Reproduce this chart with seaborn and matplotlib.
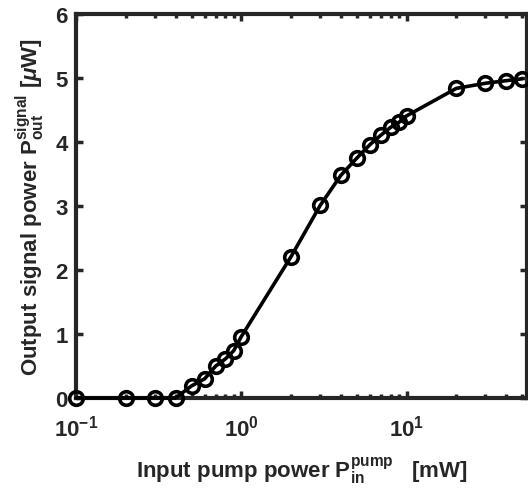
import matplotlib
matplotlib.use("Agg")
import matplotlib.pyplot as plt
import matplotlib.ticker as mticker
import numpy as np
import pandas as pd
import seaborn as sns

# pump power [mW] and output signal power [uW]
pump_mw = [0.1, 0.2, 0.3, 0.4, 0.5, 0.6, 0.7, 0.8, 0.9, 1.0,
           2.0, 3.0, 4.0, 5.0, 6.0, 7.0, 8.0, 9.0, 10.0,
           20.0, 30.0, 40.0, 50.0]
signal_uw = [0.0, 0.0, 0.0, 0.0, 0.19, 0.30, 0.50, 0.61, 0.74, 0.96,
             2.21, 3.01, 3.48, 3.75, 3.96, 4.11, 4.23, 4.31, 4.41,
             4.84, 4.92, 4.96, 4.99]
y_ticks = [0, 1, 2, 3, 4, 5, 6]
x_ticks = [0.1, 1, 10]

sns.set_style("ticks")
plt.rcParams["font.family"] = ["Liberation Sans", "DejaVu Sans"]
plt.rcParams["font.weight"] = "bold"
plt.rcParams["mathtext.fontset"] = "custom"
plt.rcParams["mathtext.rm"] = "Liberation Sans:bold"
plt.rcParams["mathtext.bf"] = "Liberation Sans:bold"
plt.rcParams["mathtext.it"] = "Liberation Sans:bold:italic"
plt.rcParams["mathtext.default"] = "bf"

data = pd.DataFrame({"pump": pump_mw, "signal": signal_uw})

fig = plt.figure(figsize=(5.28, 4.89), dpi=100)
ax = fig.add_axes([0.144, 0.184, 0.854, 0.785])

sns.lineplot(data=data, x="pump", y="signal", ax=ax, color="black",
             linewidth=2.6, marker="o", markersize=9.8,
             markerfacecolor="none", markeredgecolor="black",
             markeredgewidth=2.6, clip_on=False, zorder=5)

ax.set_xscale("log")
ax.set_xlim(0.1, 53.5)
ax.set_ylim(0, 6)
ax.set_xticks(x_ticks)
ax.xaxis.set_major_formatter(mticker.FuncFormatter(
    lambda v, p: "$10^{%d}$" % int(round(np.log10(v)))))
ax.xaxis.set_minor_locator(mticker.LogLocator(base=10, subs=np.arange(2, 10)))
ax.xaxis.set_minor_formatter(mticker.NullFormatter())
ax.set_yticks(y_ticks)

for side in ["left", "right", "top", "bottom"]:
    ax.spines[side].set_linewidth(3)
    ax.spines[side].set_color("#262626")
ax.tick_params(which="both", direction="in", top=True, right=True,
               color="#262626", labelcolor="#262626", labelsize=16)
ax.tick_params(which="major", length=5, width=2.5)
ax.tick_params(which="minor", length=3, width=2.5)
ax.tick_params(axis="x", pad=12)
ax.tick_params(axis="y", pad=6)

ax.set_xlabel(r"Input pump power $\mathbf{P_{in}^{pump}}$   [mW]",
              fontsize=16, fontweight="bold", color="#262626", labelpad=10)
ax.set_ylabel(r"Output signal power $\mathbf{P_{out}^{signal}}$ [$\mathit{\mu}$W]",
              fontsize=16, fontweight="bold", color="#262626", labelpad=6)

fig.savefig("out.png", dpi=100)
